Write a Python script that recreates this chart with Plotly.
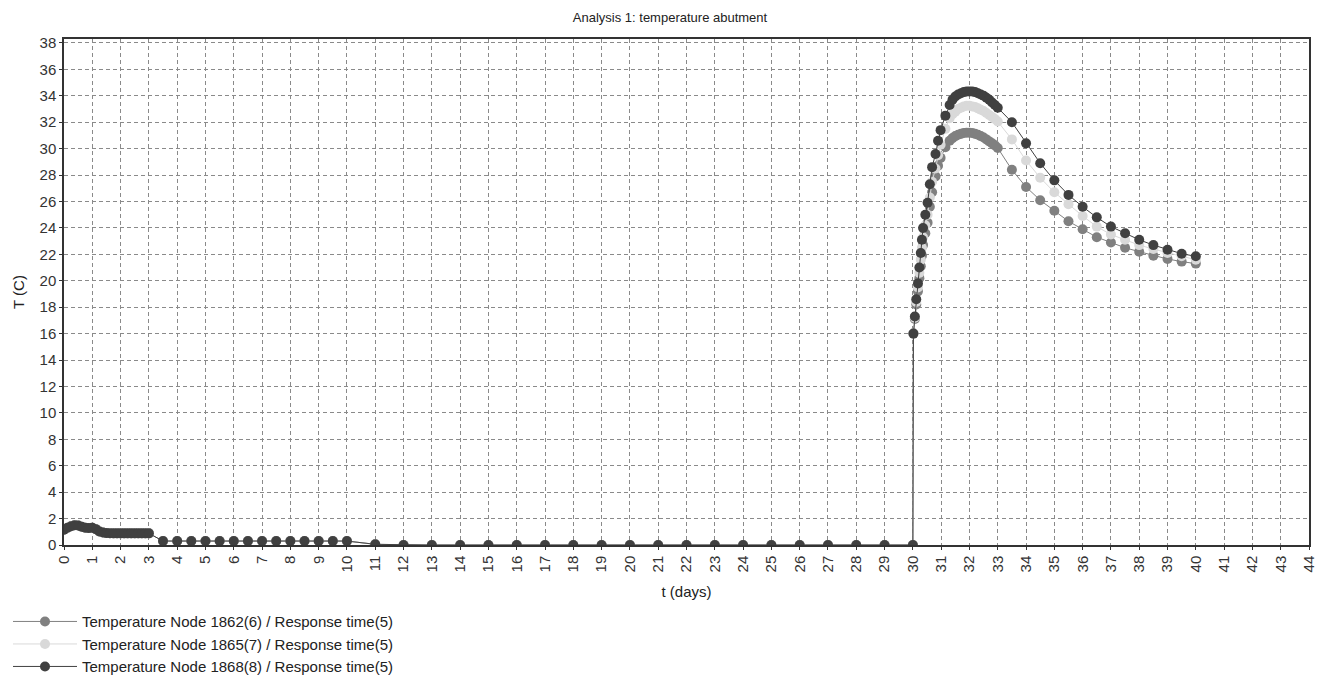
import plotly.graph_objects as go

TITLE = "Analysis 1: temperature abutment"
X_TITLE = "t (days)"
Y_TITLE = "T (C)"

# time samples (days), shared by the three nodes
t_days = [
    0.0, 0.125, 0.25, 0.375, 0.5, 0.625, 0.75, 0.875, 1.0, 1.125, 1.25, 1.375,
    1.5, 1.625, 1.75, 1.875, 2.0, 2.125, 2.25, 2.375, 2.5, 2.625, 2.75, 2.875, 3.0,
    3.5, 4.0, 4.5, 5.0, 5.5, 6.0, 6.5, 7.0, 7.5, 8.0, 8.5, 9.0, 9.5, 10.0,
    11.0, 12.0, 13.0, 14.0, 15.0, 16.0, 17.0, 18.0, 19.0, 20.0, 21.0, 22.0,
    23.0, 24.0, 25.0, 26.0, 27.0, 28.0, 29.0, 30.0,
    30.02, 30.07, 30.12, 30.18, 30.23, 30.28, 30.32, 30.36, 30.44, 30.52,
    30.6, 30.68, 30.8, 30.89, 30.98, 31.15, 31.3,
    31.4, 31.5, 31.6, 31.7, 31.8, 31.9, 32.0, 32.1, 32.2, 32.3, 32.4, 32.5,
    32.6, 32.7, 32.8, 32.9, 33.0,
    33.5, 34.0, 34.5, 35.0, 35.5, 36.0, 36.5, 37.0, 37.5, 38.0, 38.5, 39.0,
    39.5, 40.0,
]

early = [
    1.15, 1.3, 1.42, 1.5, 1.48, 1.38, 1.3, 1.28, 1.3, 1.2, 1.02, 0.95,
    0.9, 0.89, 0.88, 0.88, 0.88, 0.88, 0.88, 0.88, 0.88, 0.88, 0.88, 0.88, 0.88,
    0.3, 0.3, 0.3, 0.3, 0.3, 0.3, 0.3, 0.3, 0.3, 0.3, 0.3, 0.3, 0.3, 0.3,
    0.05, 0.0, 0.0, 0.0, 0.0, 0.0, 0.0, 0.0, 0.0, 0.0, 0.0, 0.0,
    0.0, 0.0, 0.0, 0.0, 0.0, 0.0, 0.0, 0.0,
]

node_1862 = early + [
    16.0, 17.1, 18.2, 19.2, 20.2, 21.1, 21.9, 22.7, 23.6, 24.4,
    25.6, 26.7, 27.9, 28.7, 29.3, 30.1, 30.6,
    30.8, 30.95, 31.05, 31.12, 31.18, 31.2, 31.2, 31.18, 31.12, 31.05, 30.95, 30.85,
    30.7, 30.55, 30.4, 30.25, 30.05,
    28.4, 27.1, 26.1, 25.3, 24.5, 23.9, 23.3, 22.9, 22.5, 22.2, 21.9, 21.65,
    21.45, 21.3,
]

node_1865 = early + [
    16.0, 17.2, 18.4, 19.5, 20.6, 21.6, 22.5, 23.3, 24.2, 25.0,
    26.3, 27.5, 28.5, 29.5, 30.3, 31.5, 32.3,
    32.6, 32.8, 33.0, 33.1, 33.2, 33.25, 33.25, 33.2, 33.15, 33.05, 32.95, 32.85,
    32.7, 32.55, 32.4, 32.25, 32.05,
    30.7, 29.1, 27.8, 26.7, 25.8, 24.9, 24.1, 23.5, 23.1, 22.7, 22.4, 22.1,
    21.85, 21.6,
]

node_1868 = early + [
    16.0, 17.3, 18.6, 19.8, 21.0, 22.1, 23.1, 24.0, 25.0, 25.9,
    27.3, 28.6, 29.6, 30.6, 31.4, 32.5, 33.3,
    33.7, 33.95, 34.1, 34.2, 34.28, 34.32, 34.33, 34.32, 34.28, 34.2, 34.1, 34.0,
    33.85, 33.7, 33.5, 33.3, 33.1,
    32.0, 30.4, 28.9, 27.6, 26.5, 25.6, 24.8, 24.1, 23.6, 23.1, 22.7, 22.35,
    22.05, 21.85,
]

series_names = [
    "Temperature Node 1862(6) / Response time(5)",
    "Temperature Node 1865(7) / Response time(5)",
    "Temperature Node 1868(8) / Response time(5)",
]
series_values = [node_1862, node_1865, node_1868]
series_colours = ["#808080", "#d9d9d9", "#404040"]

x_ticks = list(range(0, 45))
y_ticks = list(range(0, 39, 2))

FONT = "Liberation Sans, Arial"

fig = go.Figure()
for i, (name, vals, col) in enumerate(zip(series_names, series_values, series_colours)):
    fig.add_trace(
        go.Scatter(
            x=t_days,
            y=vals,
            name=name,
            legendgroup=f"g{i}",
            mode="lines+markers",
            line=dict(color=col, width=1),
            marker=dict(color=col, size=10, symbol="circle"),
        )
    )

axis_common = dict(
    showgrid=True,
    gridcolor="#8a8a8a",
    gridwidth=1,
    griddash="4px,3px",
    showline=True,
    linecolor="#333333",
    linewidth=1.5,
    mirror=True,
    zeroline=False,
    ticks="outside",
    ticklen=3,
    tickcolor="#333333",
    tickfont=dict(family=FONT, size=15, color="#333333"),
)

fig.update_xaxes(
    range=[0, 44],
    tickvals=x_ticks,
    tickangle=-90,
    title=dict(text=X_TITLE, font=dict(family=FONT, size=15, color="#222"), standoff=15),
    **axis_common,
)
fig.update_yaxes(range=[0, 38.3], tickvals=y_ticks, **axis_common)

# y-axis title as a rotated annotation (keeps it put with fixed margins)
fig.add_annotation(
    text=Y_TITLE,
    xref="paper",
    yref="paper",
    x=-0.037,
    y=0.5,
    xanchor="center",
    yanchor="middle",
    textangle=-90,
    showarrow=False,
    font=dict(family=FONT, size=15, color="#222"),
)

# page has an 8px body margin, so the figure is a bit smaller than the window
fig.update_layout(
    width=1324,
    height=671,
    title=dict(
        text=TITLE,
        x=0.5,
        xanchor="center",
        y=0.9866,
        yanchor="middle",
        font=dict(family=FONT, size=13, color="#222"),
    ),
    plot_bgcolor="white",
    paper_bgcolor="white",
    margin=dict(l=56, r=23, t=31, b=134, autoexpand=False),
    showlegend=True,
    legend=dict(
        xref="container",
        yref="container",
        x=0.0,
        y=0.110,
        xanchor="left",
        yanchor="top",
        font=dict(family=FONT, size=15, color="#222"),
        itemwidth=64,
        tracegroupgap=0,
        bgcolor="rgba(0,0,0,0)",
    ),
)

fig.write_html("out.html")
